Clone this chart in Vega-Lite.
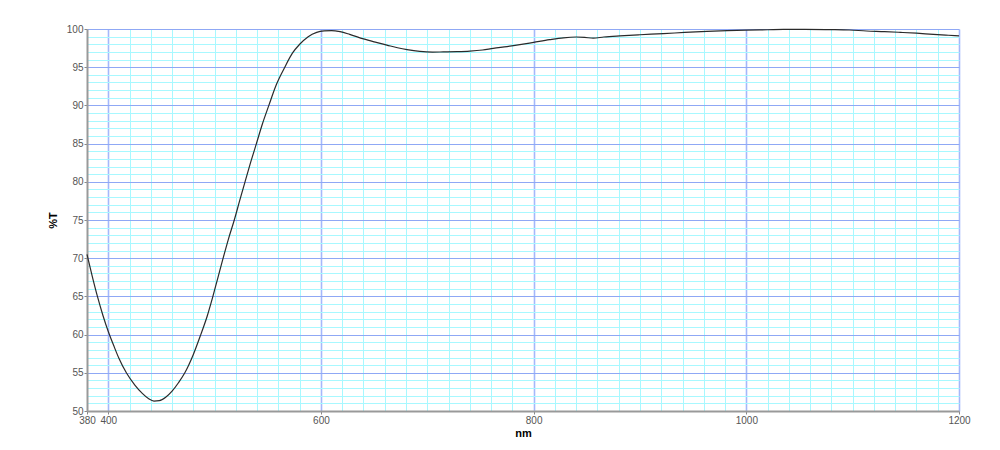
{
  "$schema": "https://vega.github.io/schema/vega-lite/v6.json",
  "autosize": {"type": "none"},
  "padding": {"left": 87, "top": 29, "right": 41, "bottom": 39},
  "width": 872,
  "height": 382,
  "background": "white",
  "config": {
    "view": {"stroke": null},
    "font": "Liberation Sans"
  },
  "data": {
    "values": [
      {"nm": 380, "T": 70.5}, {"nm": 385, "T": 67.6}, {"nm": 390, "T": 64.9},
      {"nm": 395, "T": 62.5}, {"nm": 400, "T": 60.4}, {"nm": 405, "T": 58.6},
      {"nm": 410, "T": 56.9}, {"nm": 417, "T": 55.0}, {"nm": 425, "T": 53.4},
      {"nm": 432, "T": 52.3}, {"nm": 438, "T": 51.6}, {"nm": 443, "T": 51.3},
      {"nm": 448, "T": 51.35}, {"nm": 454, "T": 51.8}, {"nm": 460, "T": 52.6},
      {"nm": 466, "T": 53.7}, {"nm": 472, "T": 55.0}, {"nm": 480, "T": 57.4},
      {"nm": 487, "T": 60.0}, {"nm": 493, "T": 62.4}, {"nm": 498, "T": 64.8},
      {"nm": 503, "T": 67.4}, {"nm": 508, "T": 70.0}, {"nm": 513, "T": 72.5},
      {"nm": 518.5, "T": 75.0}, {"nm": 523.5, "T": 77.5}, {"nm": 528.6, "T": 80.0},
      {"nm": 534, "T": 82.6}, {"nm": 539.3, "T": 85.0}, {"nm": 545, "T": 87.6},
      {"nm": 551, "T": 90.0}, {"nm": 558, "T": 92.7}, {"nm": 566, "T": 95.0},
      {"nm": 573, "T": 96.8}, {"nm": 580, "T": 98.0}, {"nm": 588, "T": 99.0},
      {"nm": 596, "T": 99.55}, {"nm": 603, "T": 99.75}, {"nm": 610, "T": 99.8},
      {"nm": 618, "T": 99.65}, {"nm": 627, "T": 99.3}, {"nm": 640, "T": 98.7},
      {"nm": 652, "T": 98.25}, {"nm": 662, "T": 97.9}, {"nm": 672, "T": 97.55},
      {"nm": 681, "T": 97.3}, {"nm": 693, "T": 97.07}, {"nm": 705, "T": 96.98},
      {"nm": 715, "T": 97.0}, {"nm": 728, "T": 97.03}, {"nm": 740, "T": 97.1},
      {"nm": 752, "T": 97.25}, {"nm": 762, "T": 97.47}, {"nm": 775, "T": 97.7},
      {"nm": 787, "T": 97.95}, {"nm": 800, "T": 98.25}, {"nm": 815, "T": 98.6},
      {"nm": 828, "T": 98.85}, {"nm": 840, "T": 98.95}, {"nm": 848, "T": 98.9},
      {"nm": 856, "T": 98.8}, {"nm": 866, "T": 98.95}, {"nm": 881, "T": 99.1},
      {"nm": 900, "T": 99.25}, {"nm": 922, "T": 99.4}, {"nm": 942, "T": 99.55},
      {"nm": 963, "T": 99.7}, {"nm": 982, "T": 99.8}, {"nm": 1000, "T": 99.85},
      {"nm": 1020, "T": 99.9}, {"nm": 1035, "T": 99.95}, {"nm": 1055, "T": 99.95},
      {"nm": 1079, "T": 99.92}, {"nm": 1097, "T": 99.87}, {"nm": 1113, "T": 99.74},
      {"nm": 1130, "T": 99.66}, {"nm": 1145, "T": 99.56}, {"nm": 1160, "T": 99.45},
      {"nm": 1176, "T": 99.3}, {"nm": 1190, "T": 99.18}, {"nm": 1200, "T": 99.1}
    ]
  },
  "mark": {"type": "line", "interpolate": "monotone", "color": "#2a2a2a", "strokeWidth": 1.2},
  "encoding": {
    "x": {
      "field": "nm", "type": "quantitative",
      "scale": {"domain": [380, 1200], "nice": false, "zero": false},
      "axis": {
        "title": "nm",
        "values": [380,400,420,440,460,480,500,520,540,560,580,600,620,640,660,680,700,720,740,760,780,800,820,840,860,880,900,920,940,960,980,1000,1020,1040,1060,1080,1100,1120,1140,1160,1180,1200],
        "format": "d",
        "labelExpr": "indexof([380,400,600,800,1000,1200], datum.value) >= 0 ? datum.label : ''",
        "labelOverlap": false,
        "labelFlush": false,
        "labelFontSize": 10,
        "labelColor": "#555555",
        "labelPadding": 1,
        "tickSize": 3,
        "tickColor": "#888888",
        "tickOpacity": {"condition": {"test": "indexof([380,400,600,800,1000,1200], datum.value) >= 0", "value": 1}, "value": 0},
        "domainColor": "#999999",
        "domainWidth": 2,
        "grid": true,
        "gridColor": {"condition": {"test": "datum.value % 200 == 0", "value": "#a4b8fb"}, "value": "#a8f8ff"},
        "gridWidth": {"condition": {"test": "datum.value % 200 == 0", "value": 1.6}, "value": 1},
        "gridOpacity": 1,
        "titleFontSize": 11,
        "titleFontWeight": "bold",
        "titleColor": "#000000",
        "titlePadding": 2
      }
    },
    "y": {
      "field": "T", "type": "quantitative",
      "scale": {"domain": [50, 100], "nice": false, "zero": false},
      "axis": {
        "title": "%T",
        "values": [50,51,52,53,54,55,56,57,58,59,60,61,62,63,64,65,66,67,68,69,70,71,72,73,74,75,76,77,78,79,80,81,82,83,84,85,86,87,88,89,90,91,92,93,94,95,96,97,98,99,100],
        "format": "d",
        "labelExpr": "datum.value % 5 == 0 ? datum.label : ''",
        "labelOverlap": false,
        "labelFlush": false,
        "labelFontSize": 10,
        "labelColor": "#555555",
        "labelPadding": 1,
        "tickSize": 3,
        "tickColor": "#888888",
        "tickOpacity": {"condition": {"test": "datum.value % 5 == 0", "value": 1}, "value": 0},
        "domainColor": "#999999",
        "domainWidth": 2,
        "grid": true,
        "gridColor": {"condition": {"test": "datum.value % 5 == 0", "value": "#8fa8f5"}, "value": "#a8f8ff"},
        "gridWidth": 1,
        "gridOpacity": 1,
        "titleFontSize": 11,
        "titleFontWeight": "bold",
        "titleColor": "#000000",
        "titlePadding": 8
      }
    }
  }
}
